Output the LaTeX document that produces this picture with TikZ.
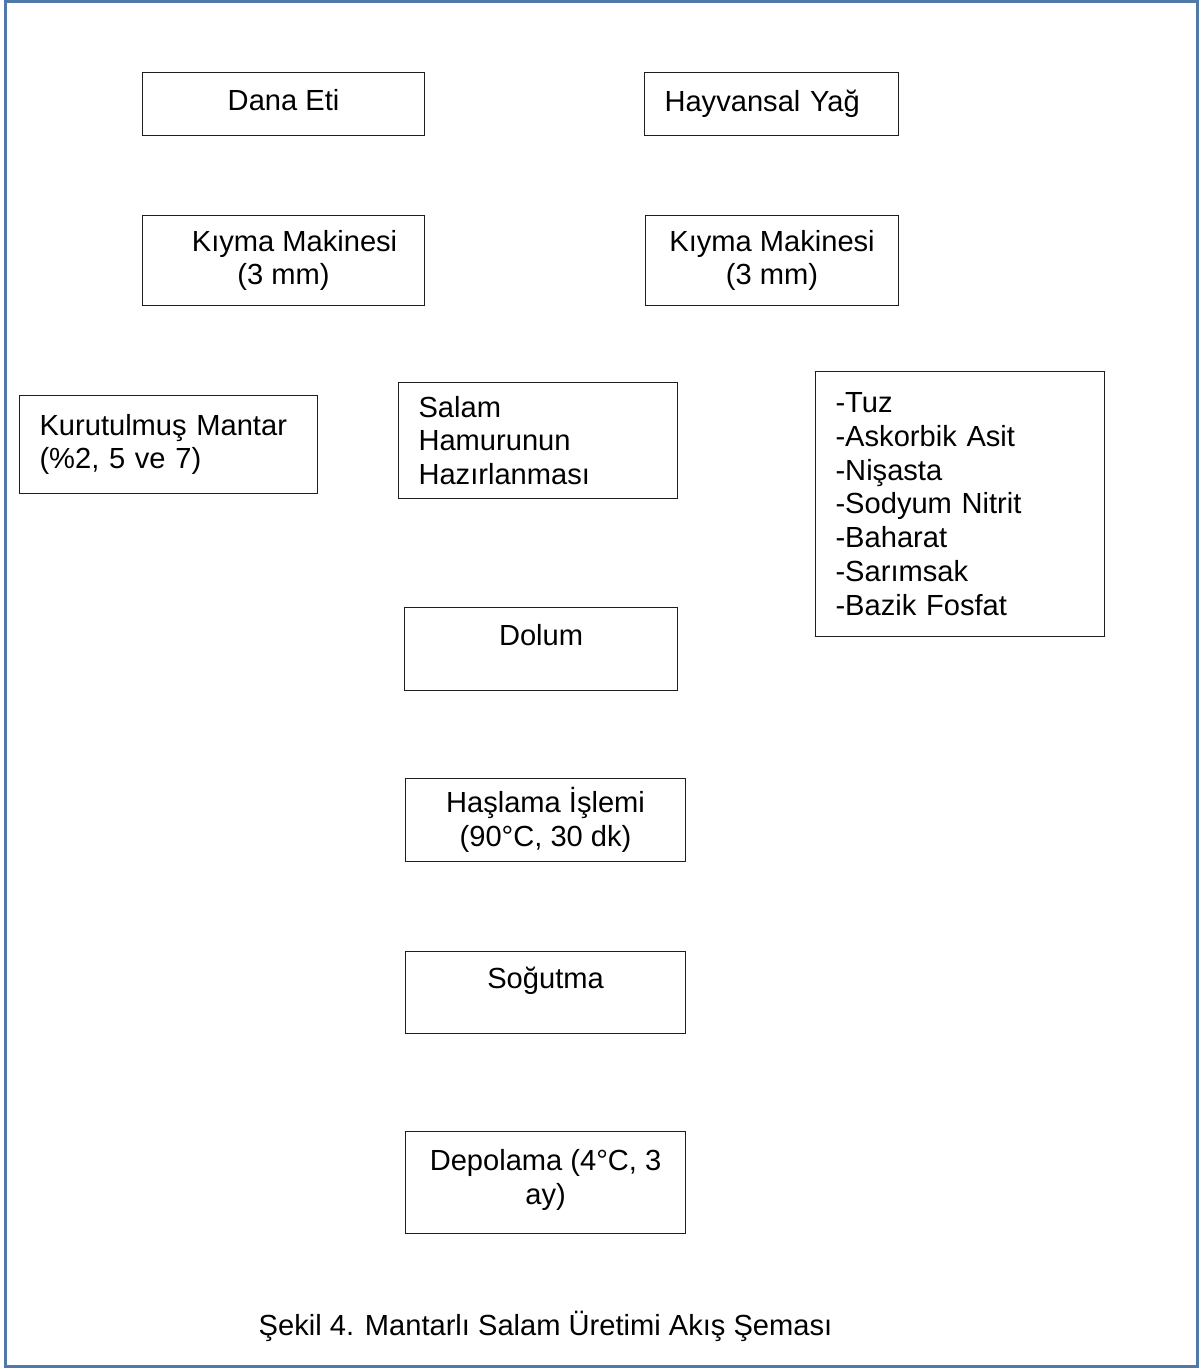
\documentclass[tikz,border=0pt]{standalone}
\usepackage{fontspec}
\setmainfont{Liberation Sans}
\usepackage{tikz}
\usetikzlibrary{positioning}
\usepackage{xcolor}
\definecolor{cFrame}{RGB}{79,121,166}
\definecolor{cLine}{RGB}{30,30,30}
\tikzset{
  kutu/.style={rectangle, draw=cLine, line width=1.1pt, anchor=north west,
               inner xsep=20pt, inner ysep=4pt,
               font=\fontsize{29.1}{33.8}\selectfont},
  ortakutu/.style={kutu, align=center, inner xsep=8pt},
  solkutu/.style={kutu, align=left},
  ustyazi/.style={text depth=29pt},
  cerceve/.style={draw=cFrame, line width=3pt},
  altyazi/.style={font=\fontsize{29.1}{33.8}\selectfont}
}
\begin{document}
\begin{tikzpicture}[x=1pt, y=-1pt]
  \useasboundingbox (0,0) rectangle (1202,1369);

  % ── dis cerceve ──
  \draw[cerceve] (5,1) rectangle (1197.5,1366.5);

  % ── hammaddeler ──
  \node[ortakutu, minimum width=282pt, minimum height=63pt, text depth=8pt] (danaeti)
      at (142,72) {Dana Eti};
  \node[solkutu, text width=214pt, minimum width=254pt, minimum height=63pt] (yag)
      at (644,72) {Hayvansal Yağ};

  % ── kiyma ──
  \node[ortakutu, minimum width=282pt, minimum height=90pt] (kiymaA)
      at (142,215) {\hspace*{22pt}Kıyma Makinesi\\(3 mm)};
  \node[ortakutu, minimum width=253pt, minimum height=90pt] (kiymaB)
      at (645,215) {Kıyma Makinesi\\(3 mm)};

  % ── karisim ──
  \node[solkutu, text width=258pt, minimum width=298pt, minimum height=98pt] (mantar)
      at (19,395) {Kurutulmuş Mantar\\(\%2, 5 ve 7)};
  \node[solkutu, text width=239pt, minimum width=279pt, minimum height=116pt] (hamur)
      at (398,382) {Salam\\Hamurunun\\Hazırlanması};
  \node[solkutu, text width=249pt, minimum width=289pt, minimum height=265pt] (katki)
      at (815,371) {-Tuz\\-Askorbik Asit\\-Nişasta\\-Sodyum Nitrit\\-Baharat\\-Sarımsak\\-Bazik Fosfat};

  % ── islem adimlari ──
  \node[ortakutu, ustyazi, minimum width=273pt, minimum height=83pt] (dolum)
      at (404,607) {Dolum};
  \node[ortakutu, minimum width=280pt, minimum height=83pt] (haslama)
      at (405,778) {Haşlama İşlemi\\(90°C, 30 dk)};
  \node[ortakutu, ustyazi, minimum width=280pt, minimum height=82pt] (sogutma)
      at (405,951) {Soğutma};
  \node[ortakutu, minimum width=280pt, minimum height=102pt, text depth=12pt] (depolama)
      at (405,1131) {Depolama (4°C, 3\\ay)};

  % ── sekil adi ──
  \node[altyazi] (baslik) at (545.5,1326) {Şekil 4. Mantarlı Salam Üretimi Akış Şeması};

\end{tikzpicture}
\end{document}
